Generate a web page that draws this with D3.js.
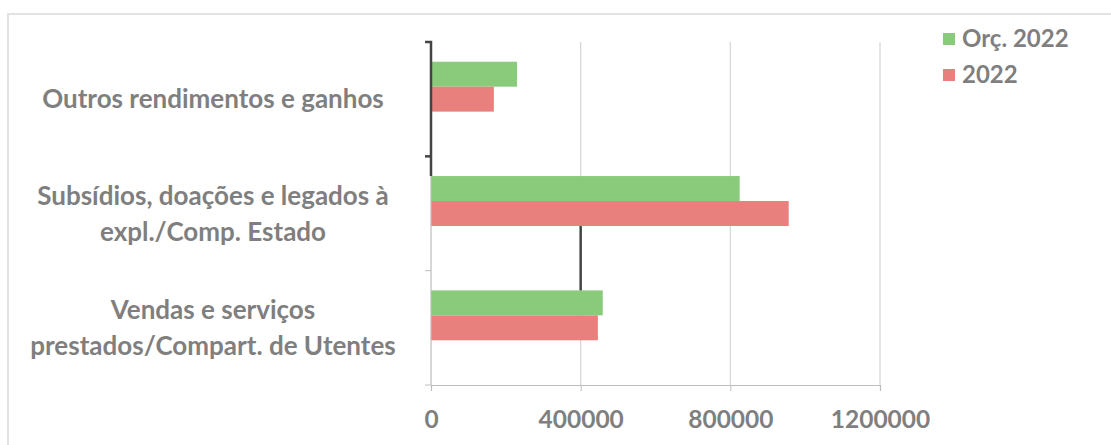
<!DOCTYPE html>
<html>
<head>
<meta charset="utf-8">
<script src="https://cdn.jsdelivr.net/npm/d3@7/dist/d3.min.js"></script>
<style>
  html, body { margin: 0; padding: 0; background: #ffffff; }
  svg { display: block; }
  text { font-family: Lato, "Open Sans", sans-serif; font-weight: 700; fill: #7f7f7f; }
</style>
</head>
<body>
<svg id="chart" width="1111" height="445"></svg>
<script>
// Categories, top to bottom, each as wrapped label lines
const categories = [
  "Outros rendimentos e ganhos",
  "Subsídios, doações e legados à expl./Comp. Estado",
  "Vendas e serviços prestados/Compart. de Utentes"
];
const categoryLines = [
  ["Outros rendimentos e ganhos"],
  ["Subsídios, doações e legados à", "expl./Comp. Estado"],
  ["Vendas e serviços", "prestados/Compart. de Utentes"]
];
const seriesNames = ["Orç. 2022", "2022"];
const orc2022 = [230000, 825000, 459000];
const real2022 = [168000, 956000, 446000];
const xTicks = [0, 400000, 800000, 1200000];
const seriesColors = ["#8acb7b", "#e8817d"];

const svg = d3.select("#chart");

// light frame round the chart area
svg.append("rect")
  .attr("x", 8).attr("y", 14).attr("width", 1120).attr("height", 450)
  .attr("fill", "none").attr("stroke", "#e2e2e2").attr("stroke-width", 2);

const plot = { left: 431, right: 880, top: 42, bottom: 385 };

const x = d3.scaleLinear().domain([0, 1200000]).range([plot.left, plot.right]);
const y = d3.scaleBand().domain(categories).range([plot.top, plot.bottom]).padding(0);
// three slots per category; the third is left empty below the two bars
const inner = d3.scaleBand().domain([...seriesNames, "_"]).range([0, y.bandwidth()])
  .paddingInner(0).paddingOuter(0.79);

// vertical gridlines
svg.append("g").selectAll("line")
  .data(xTicks.slice(1))
  .join("line")
  .attr("x1", d => x(d)).attr("x2", d => x(d))
  .attr("y1", plot.top).attr("y2", plot.bottom)
  .attr("stroke", "#d6d6d6").attr("stroke-width", 1.2);

// bars
const rows = categories.map((c, i) => ({ c, values: [orc2022[i], real2022[i]] }));
const groups = svg.append("g").selectAll("g")
  .data(rows)
  .join("g")
  .attr("transform", d => `translate(0,${y(d.c)})`);
groups.selectAll("rect")
  .data(d => d.values.map((v, k) => ({ v, k })))
  .join("rect")
  .attr("x", x(0))
  .attr("y", d => inner(seriesNames[d.k]))
  .attr("width", d => x(d.v) - x(0))
  .attr("height", inner.bandwidth())
  .attr("fill", d => seriesColors[d.k]);

// x axis
const xAxis = svg.append("g")
  .attr("transform", `translate(0,${plot.bottom})`)
  .call(d3.axisBottom(x).tickValues(xTicks).tickFormat(d3.format("d")).tickSize(6).tickPadding(20));
xAxis.select(".domain").attr("stroke", "#bdbdbd").attr("stroke-width", 1.2);
xAxis.selectAll(".tick line").attr("stroke", "#bdbdbd");
xAxis.selectAll(".tick text")
  .attr("font-size", 24.5).attr("fill", "#7f7f7f")
  .style("font-family", "Lato, 'Open Sans', sans-serif").style("font-weight", 700);

// y axis line with tick marks at band edges
const yAxis = svg.append("g");
yAxis.append("line")
  .attr("x1", plot.left).attr("x2", plot.left)
  .attr("y1", plot.top).attr("y2", plot.bottom)
  .attr("stroke", "#bdbdbd").attr("stroke-width", 1.2);
const edges = categories.map(c => y(c)).concat([plot.bottom]);
yAxis.selectAll("line.tk")
  .data(edges)
  .join("line").attr("class", "tk")
  .attr("x1", plot.left - 6).attr("x2", plot.left)
  .attr("y1", d => d).attr("y2", d => d)
  .attr("stroke", "#bdbdbd");

// darker strokes on the axis over the first band and on the 400000 line between groups
const dark = "#444444";
svg.append("path")
  .attr("d", `M${plot.left - 6},${y(categories[0])}H${plot.left}V${y(categories[1]) + inner(seriesNames[0])}`)
  .attr("fill", "none").attr("stroke", dark).attr("stroke-width", 2.5);
svg.append("line")
  .attr("x1", plot.left - 6).attr("x2", plot.left)
  .attr("y1", y(categories[1])).attr("y2", y(categories[1]))
  .attr("stroke", dark).attr("stroke-width", 2.5);
svg.append("line")
  .attr("x1", x(400000)).attr("x2", x(400000))
  .attr("y1", y(categories[1]) + inner(seriesNames[1]) + inner.bandwidth())
  .attr("y2", y(categories[2]) + inner(seriesNames[0]))
  .attr("stroke", dark).attr("stroke-width", 2.5);

// category labels, centred in their band
const lineGap = 36;
const labels = svg.append("g").selectAll("text")
  .data(categories.map((c, i) => ({ c, lines: categoryLines[i] })))
  .join("text")
  .attr("text-anchor", "middle")
  .attr("font-size", 26)
  .attr("x", 213)
  .attr("y", d => y(d.c) + y.bandwidth() / 2 - (d.lines.length - 1) * lineGap / 2);
labels.selectAll("tspan")
  .data(d => d.lines.map((t, j) => ({ t, j })))
  .join("tspan")
  .attr("x", 213)
  .attr("dy", d => d.j === 0 ? "0.35em" : lineGap)
  .text(d => d.t);

// legend
const legend = svg.append("g").selectAll("g")
  .data(seriesNames)
  .join("g")
  .attr("transform", (d, i) => `translate(943,${39 + i * 36})`);
legend.append("rect")
  .attr("x", 0).attr("y", -6).attr("width", 12).attr("height", 12)
  .attr("fill", (d, i) => seriesColors[i]);
legend.append("text")
  .attr("x", 19).attr("dy", "0.35em")
  .attr("font-size", 24)
  .text(d => d);
</script>
</body>
</html>
